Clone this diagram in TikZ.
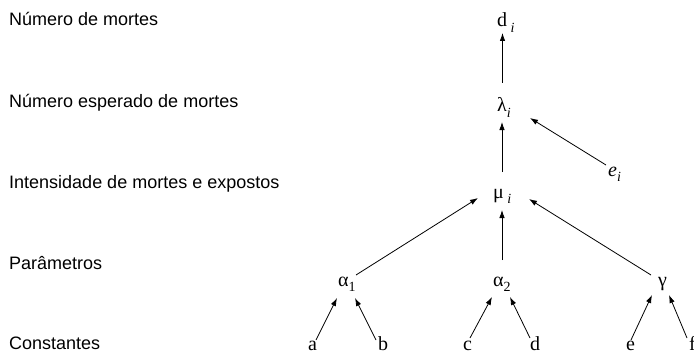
\documentclass[tikz,border=0pt]{standalone}
\usepackage{fontspec}
\setmainfont{Liberation Serif}
\newfontfamily\labfont{Liberation Sans}
\usetikzlibrary{arrows.meta}
\newcommand\mysub[1]{\raisebox{-0.28em}{\fontsize{14}{14}\selectfont #1}}
\tikzset{
  lab/.style={anchor=base west, inner sep=0pt, font=\labfont\fontsize{18}{18}\selectfont},
  var/.style={anchor=base west, inner sep=0pt, font=\fontsize{20}{20}\selectfont},
  arr/.style={-{Latex[length=8pt,width=5.5pt]}, line width=0.8pt}
}
\begin{document}
\begin{tikzpicture}[x=1pt,y=-1pt]
\useasboundingbox (0,0) rectangle (694,353);
% row labels
\node[lab] (l1) at (9,26) {Número de mortes};
\node[lab] (l2) at (9,107) {Número esperado de mortes};
\node[lab] (l3) at (9,188) {Intensidade de mortes e expostos};
\node[lab] (l4) at (9,269) {Parâmetros};
\node[lab] (l5) at (9,349) {Constantes};
% variables
\node[var] (nd) at (497,27) {d\,\mysub{\itshape i}};
\node[var] (nl) at (497,112) {λ\mysub{\itshape i}};
\node[var] (nm) at (493,198) {μ\,\mysub{\itshape i}};
\node[var] (ne) at (608,176) {\itshape e\mysub{i}};
\node[var] (a1) at (338,286) {α\mysub{1}};
\node[var] (a2) at (493,286) {α\mysub{2}};
\node[var] (g) at (658,286) {γ};
\node[var] (ca) at (308,350) {a};
\node[var] (cb) at (378,350) {b};
\node[var] (cc) at (463,350) {c};
\node[var] (cd) at (530,350) {d};
\node[var] (ce) at (626,350) {e};
\node[var] (cf) at (689,350) {f};
% connectors
\draw[arr] ([shift={(5.5,-29)}]nl.base west) -- ([shift={(5.5,6)}]nd.base west);
\draw[arr] ([shift={(9,-26)}]nm.base west) -- ([shift={(5,10)}]nl.base west);
\draw[arr] ([shift={(-2,-11)}]ne.base west) -- ([shift={(33,6)}]nl.base west);
\draw[arr] ([shift={(18,-11)}]a1.base west) -- ([shift={(-15,0)}]nm.base west);
\draw[arr] ([shift={(9,-26)}]a2.base west) -- ([shift={(9,12)}]nm.base west);
\draw[arr] ([shift={(-7,-11)}]g.base west) -- ([shift={(36,1)}]nm.base west);
\draw[arr] ([shift={(8,-10)}]ca.base west) -- ([shift={(-1,12)}]a1.base west);
\draw[arr] ([shift={(-2,-10)}]cb.base west) -- ([shift={(17,12)}]a1.base west);
\draw[arr] ([shift={(7,-12)}]cc.base west) -- ([shift={(-1,11)}]a2.base west);
\draw[arr] ([shift={(0,-12)}]cd.base west) -- ([shift={(17,11)}]a2.base west);
\draw[arr] ([shift={(5,-10)}]ce.base west) -- ([shift={(-6,9)}]g.base west);
\draw[arr] ([shift={(-2,-12)}]cf.base west) -- ([shift={(11,9)}]g.base west);
\end{tikzpicture}
\end{document}
